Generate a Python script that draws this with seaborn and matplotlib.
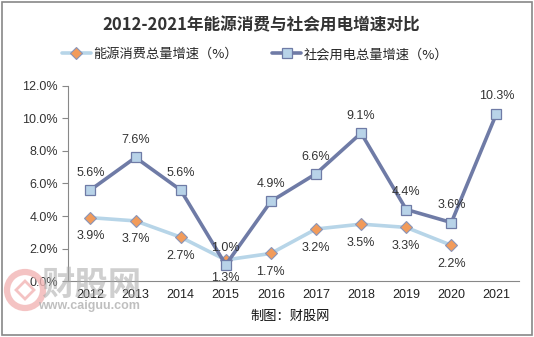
import matplotlib
matplotlib.use("Agg")
import matplotlib.pyplot as plt
import seaborn as sns
import pandas as pd
from matplotlib.patches import Rectangle, Ellipse, Polygon

years = ["2012", "2013", "2014", "2015", "2016", "2017", "2018", "2019", "2020", "2021"]
energy = [3.9, 3.7, 2.7, 1.3, 1.7, 3.2, 3.5, 3.3, 2.2, None]
power = [5.6, 7.6, 5.6, 1.0, 4.9, 6.6, 9.1, 4.4, 3.6, 10.3]
energy_name = "能源消费总量增速（%）"
power_name = "社会用电总量增速（%）"
title = "2012-2021年能源消费与社会用电增速对比"
yticks = [0, 2, 4, 6, 8, 10, 12]

sns.set_theme(style="white")
plt.rcParams['font.family'] = ['Liberation Sans', 'Noto Sans CJK SC', 'DejaVu Sans']

df = pd.DataFrame({"pos": range(len(years)), "energy": energy, "power": power})

fig = plt.figure(figsize=(5.34, 3.37), dpi=100)
ax = fig.add_axes([0.127, 0.166, 0.845, 0.579])

e_col_line = "#B7D5E8"
p_col_line = "#6F7BA6"

sns.lineplot(data=df, x="pos", y="energy", ax=ax, color=e_col_line, linewidth=2.6,
             marker="D", markersize=6.5, markerfacecolor="#F29B5A", markeredgecolor="#8A95B8",
             markeredgewidth=0.8, label=energy_name)
sns.lineplot(data=df, x="pos", y="power", ax=ax, color=p_col_line, linewidth=2.6,
             marker="s", markersize=7.5, markerfacecolor="#B8D3E8", markeredgecolor="#6F7BA6",
             markeredgewidth=0.9, label=power_name)

for i, v in enumerate(power):
    if v is not None:
        ax.annotate(f"{v:.1f}%", (i, v), xytext=(0, 8), textcoords="offset points",
                    ha="center", va="bottom", fontsize=9, color="#333333")
for i, v in enumerate(energy):
    if v is not None:
        ax.annotate(f"{v:.1f}%", (i, v), xytext=(0, -9), textcoords="offset points",
                    ha="center", va="top", fontsize=9, color="#333333")

ax.set_xlim(-0.5, len(years) - 0.5)
ax.set_ylim(0, 12)
ax.set_yticks(yticks)
ax.set_yticklabels([f"{t:.1f}%" for t in yticks], fontsize=9, color="#333333")
ax.set_xticks(range(len(years)))
ax.set_xticklabels(years, fontsize=9, color="#222222")
ax.set_xticks([i - 0.5 for i in range(len(years) + 1)], minor=True)
ax.tick_params(axis="x", which="major", length=0, pad=6)
ax.tick_params(axis="x", which="minor", length=4, color="#888888", width=0.8, direction="out")
ax.tick_params(axis="y", length=4, color="#888888", width=0.8, direction="out", left=True, pad=3)
ax.set_xlabel("")
ax.set_ylabel("")
for s in ["top", "right"]:
    ax.spines[s].set_visible(False)
ax.spines["left"].set_color("#888888")
ax.spines["bottom"].set_color("#888888")
ax.spines["left"].set_linewidth(0.8)
ax.spines["bottom"].set_linewidth(0.8)

leg = ax.legend(loc="center", bbox_to_anchor=(0.478, 0.838), bbox_transform=fig.transFigure,
                ncol=2, frameon=False, handlelength=2.2, columnspacing=2.6,
                handletextpad=0.2, prop={'family': ['Noto Sans CJK SC'], 'size': 9.5})

fig.text(0.49, 0.925, title, ha="center", va="center", fontsize=12, fontweight="bold",
         color="#333333", family=["Noto Sans CJK SC"])
fig.text(0.543, 0.062, "制图：财股网", ha="center", va="center", fontsize=9.5,
         color="#111111", family=["Noto Sans CJK SC"])

# watermark
cx, cy = 25 / 534, 1 - 290 / 337
fig.patches.append(Ellipse((cx, cy), 36 / 534, 36 / 337, transform=fig.transFigure,
                           facecolor="none", edgecolor="#F2B5B5", linewidth=4.5, alpha=0.8, figure=fig))
fig.patches.append(Polygon([(cx, cy + 9 / 337), (cx + 9 / 534, cy),
                            (cx, cy - 9 / 337), (cx - 9 / 534, cy)],
                           closed=True, transform=fig.transFigure, facecolor="none",
                           edgecolor="#F2B5B5", linewidth=2, alpha=0.8, figure=fig))
fig.text(0.171, 1 - 285 / 337, "财股网", ha="center", va="center", fontsize=24, fontweight="bold",
         color="#A8A8A8", alpha=0.55, family=["Noto Sans CJK SC"])
fig.text(0.167, 1 - 306 / 337, "www.caiguu.com", ha="center", va="center", fontsize=9,
         color="#B0B0B0", alpha=0.8, fontweight="bold")

fig.patches.append(Rectangle((0.004, 0.006), 0.992, 0.988, transform=fig.transFigure,
                             facecolor="none", edgecolor="#888888", linewidth=1.2, figure=fig))

fig.savefig("out.png", dpi=100)
